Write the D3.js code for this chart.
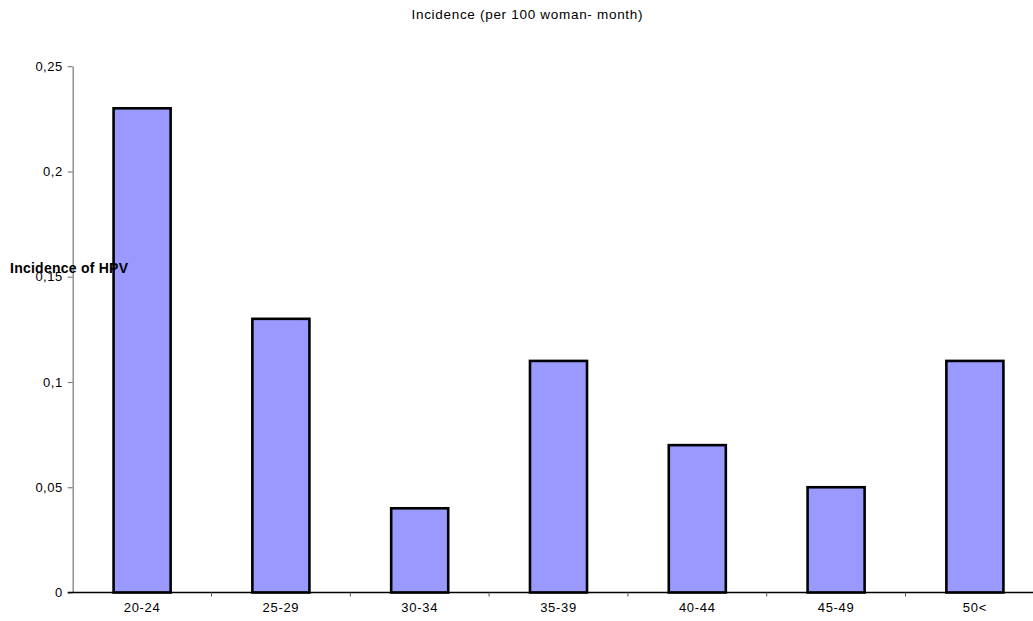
<!DOCTYPE html>
<html>
<head>
<meta charset="utf-8">
<script src="https://cdn.jsdelivr.net/npm/d3@7/dist/d3.min.js"></script>
<style>
  html, body { margin: 0; padding: 0; background: #fff; }
  svg { display: block; font-family: "Liberation Sans", Arial, sans-serif; }
</style>
</head>
<body>
<svg id="chart" width="1033" height="621"></svg>
<script>
// Age groups and HPV incidence per 100 woman-months
const categories = ["20-24", "25-29", "30-34", "35-39", "40-44", "45-49", "50<"];
const incidence = [0.23, 0.13, 0.04, 0.11, 0.07, 0.05, 0.11];
const yTicks = [0, 0.05, 0.1, 0.15, 0.2, 0.25];
const yTickLabels = ["0", "0,05", "0,1", "0,15", "0,2", "0,25"];

const svg = d3.select("#chart");
const plot = { left: 72.7, right: 1044.3, top: 66.2, bottom: 592.5 };

const x = d3.scaleBand()
  .domain(categories)
  .range([plot.left, plot.right])
  .paddingInner(0.589)
  .paddingOuter(0.2945);

const y = d3.scaleLinear()
  .domain([0, 0.25])
  .range([plot.bottom, plot.top]);

// Title
svg.append("text")
  .attr("x", 527)
  .attr("y", 19)
  .attr("text-anchor", "middle")
  .attr("font-size", 13.5)
  .attr("textLength", 231)
  .attr("lengthAdjust", "spacing")
  .attr("fill", "#000")
  .text("Incidence (per 100 woman- month)");

// Y axis
const yAxis = svg.append("g")
  .attr("transform", `translate(${plot.left},0)`)
  .call(d3.axisLeft(y)
    .tickValues(yTicks)
    .tickSize(5)
    .tickSizeOuter(0)
    .tickPadding(5)
    .tickFormat((d, i) => yTickLabels[i]));
yAxis.select(".domain").attr("stroke", "#808080").attr("stroke-width", 1.3);
yAxis.selectAll(".tick line").attr("stroke", "#808080").attr("stroke-width", 1.2);
yAxis.selectAll(".tick text")
  .attr("font-size", 13)
  .attr("font-family", "Liberation Sans, Arial, sans-serif")
  .attr("letter-spacing", 0.5)
  .attr("fill", "#000");

// Bars
svg.append("g")
  .selectAll("rect")
  .data(categories)
  .join("rect")
  .attr("x", d => x(d))
  .attr("y", (d, i) => y(incidence[i]))
  .attr("width", x.bandwidth())
  .attr("height", (d, i) => y(0) - y(incidence[i]))
  .attr("fill", "#9999FF")
  .attr("stroke", "#000")
  .attr("stroke-width", 2.6);

// X axis baseline and category boundary ticks
const xAxis = svg.append("g");
xAxis.append("line")
  .attr("x1", plot.left - 5)
  .attr("x2", 1033)
  .attr("y1", y(0))
  .attr("y2", y(0))
  .attr("stroke", "#000")
  .attr("stroke-width", 1.3);

const gap = (x.step() - x.bandwidth()) / 2;
xAxis.selectAll("line.boundary")
  .data(categories.slice(1))
  .join("line")
  .attr("class", "boundary")
  .attr("x1", d => x(d) - gap)
  .attr("x2", d => x(d) - gap)
  .attr("y1", y(0))
  .attr("y2", y(0) + 4)
  .attr("stroke", "#555")
  .attr("stroke-width", 1);

xAxis.selectAll("text")
  .data(categories)
  .join("text")
  .attr("x", d => x(d) + x.bandwidth() / 2)
  .attr("y", y(0) + 19)
  .attr("text-anchor", "middle")
  .attr("font-size", 13)
  .attr("letter-spacing", 0.7)
  .attr("fill", "#000")
  .text(d => d);

// Y axis title
svg.append("text")
  .attr("x", 10)
  .attr("y", 273)
  .attr("font-size", 14)
  .attr("font-weight", "bold")
  .attr("textLength", 118)
  .attr("lengthAdjust", "spacing")
  .attr("fill", "#000")
  .text("Incidence of HPV");
</script>
</body>
</html>
